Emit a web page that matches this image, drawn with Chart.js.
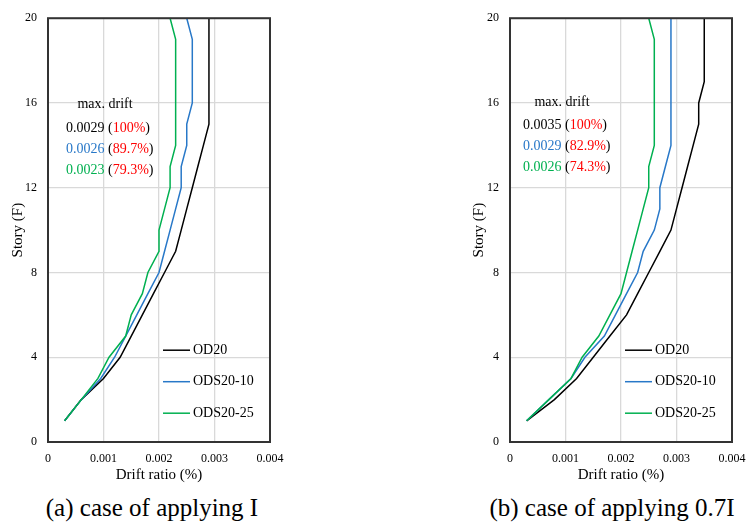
<!DOCTYPE html>
<html>
<head>
<meta charset="utf-8">
<script src="https://cdn.jsdelivr.net/npm/chart.js@4.4.1/dist/chart.umd.min.js"></script>
<style>
html, body { margin: 0; padding: 0; background: #fff; overflow: hidden; }
body { width: 746px; height: 526px; position: relative; font-family: 'Liberation Serif', 'Times New Roman', serif; }
canvas { position: absolute; top: 0; }
#chart-a { left: 0; }
#chart-b { left: 373px; }
.caption { position: absolute; top: 493px; font-size: 25px; line-height: 30px; white-space: nowrap; transform: translateX(-50%); color: #000; }
</style>
</head>
<body>
<canvas id="chart-a" width="300" height="490"></canvas>
<canvas id="chart-b" width="390" height="490"></canvas>
<div class="caption" style="left:152px">(a) case of applying I</div>
<div class="caption" style="left:612px">(b) case of applying 0.7I</div>
<script>
var stories = [1, 2, 3, 4, 5, 6, 7, 8, 9, 10, 11, 12, 13, 14, 15, 16, 17, 18, 19, 20];
var seriesNames = ['OD20', 'ODS20-10', 'ODS20-25'];
var seriesColors = ['#000000', '#2878c8', '#00b050'];
var xTicks = [0, 0.001, 0.002, 0.003, 0.004];
var yTicks = [0, 4, 8, 12, 16, 20];

// (a) seismic load I
var driftA_OD20 = [0.0003, 0.0006, 0.0010, 0.0013, 0.0015, 0.0017, 0.0019, 0.0021, 0.0023, 0.0024,
                   0.0025, 0.0026, 0.0027, 0.0028, 0.0029, 0.0029, 0.0029, 0.0029, 0.0029, 0.0029];
var driftA_ODS10 = [0.0003, 0.0006, 0.00095, 0.0012, 0.0014, 0.0016, 0.0018, 0.0020, 0.0021, 0.0022,
                    0.0023, 0.0024, 0.0024, 0.0025, 0.0025, 0.0026, 0.0026, 0.0026, 0.0026, 0.0025];
var driftA_ODS25 = [0.0003, 0.0006, 0.0009, 0.0011, 0.0014, 0.0015, 0.0017, 0.0018, 0.0020, 0.0020,
                    0.0021, 0.0022, 0.0022, 0.0023, 0.0023, 0.0023, 0.0023, 0.0023, 0.0023, 0.0022];

// (b) seismic load 0.7I
var driftB_OD20 = [0.0003, 0.0008, 0.0012, 0.0015, 0.0018, 0.0021, 0.0023, 0.0025, 0.0027, 0.0029,
                   0.0030, 0.0031, 0.0032, 0.0033, 0.0034, 0.0034, 0.0035, 0.0035, 0.0035, 0.0035];
var driftB_ODS10 = [0.0003, 0.0007, 0.0011, 0.00135, 0.0017, 0.0019, 0.0021, 0.0023, 0.0024, 0.0026,
                    0.0027, 0.0027, 0.0028, 0.0029, 0.0029, 0.0029, 0.0029, 0.0029, 0.0029, 0.0029];
var driftB_ODS25 = [0.0003, 0.0007, 0.0011, 0.0013, 0.0016, 0.0018, 0.0020, 0.0021, 0.0022, 0.0023,
                    0.0024, 0.0025, 0.0025, 0.0026, 0.0026, 0.0026, 0.0026, 0.0026, 0.0026, 0.0025];

var serif = "'Liberation Serif', 'Times New Roman', serif";
Chart.defaults.font.family = serif;
Chart.defaults.color = '#000';

function maxOf(arr) {
    return Math.max.apply(null, arr);
}

// box around the plot area
var framePlugin = {
    id: 'frame',
    afterDraw: function(chart) {
        var a = chart.chartArea, ctx = chart.ctx;
        ctx.save();
        ctx.strokeStyle = '#333';
        ctx.lineWidth = 2;
        ctx.strokeRect(a.left, a.top, a.right - a.left, a.bottom - a.top);
        ctx.restore();
    }
};

// legend sitting inside the lower right of the plot
var insideLegend = {
    id: 'insideLegend',
    afterDraw: function(chart) {
        var a = chart.chartArea, ctx = chart.ctx;
        ctx.save();
        ctx.font = '14px ' + serif;
        ctx.textBaseline = 'middle';
        chart.data.datasets.forEach(function(ds, i) {
            var x = a.left + 115;
            var y = a.top + 332 + i * 31.5;
            ctx.strokeStyle = ds.borderColor;
            ctx.lineWidth = 1.5;
            ctx.beginPath();
            ctx.moveTo(x, y);
            ctx.lineTo(x + 27, y);
            ctx.stroke();
            ctx.fillStyle = '#000';
            ctx.fillText(ds.label, x + 30, y);
        });
        ctx.restore();
    }
};

// "max. drift" note: peak drift of each series and its ratio to OD20
var driftNote = {
    id: 'driftNote',
    afterDraw: function(chart, args, opts) {
        var a = chart.chartArea, ctx = chart.ctx;
        var x0 = a.left + opts.x, y0 = a.top + opts.y;
        var sets = chart.data.datasets;
        var ref = maxOf(sets[0].data.map(function(p) { return p.x; }));
        ctx.save();
        ctx.font = '14px ' + serif;
        ctx.textBaseline = 'middle';
        ctx.textAlign = 'center';
        ctx.fillStyle = '#000';
        ctx.fillText('max. drift', x0 + 39, y0);
        ctx.textAlign = 'left';
        sets.forEach(function(ds, i) {
            var peak = maxOf(ds.data.map(function(p) { return p.x; }));
            var pct = peak / ref * 100;
            var pctText = (Math.abs(pct - 100) < 1e-9 ? '100' : pct.toFixed(1)) + '%';
            var parts = [
                [peak.toFixed(4), ds.borderColor],
                [' (', '#000'],
                [pctText, '#ff0000'],
                [')', '#000']
            ];
            var x = x0, y = y0 + opts.first + i * opts.step;
            parts.forEach(function(p) {
                ctx.fillStyle = p[1];
                ctx.fillText(p[0], x, y);
                x += ctx.measureText(p[0]).width;
            });
        });
        ctx.restore();
    }
};

function makeDatasets(seriesList) {
    return seriesList.map(function(values, i) {
        return {
            label: seriesNames[i],
            data: values.map(function(v, k) { return { x: v, y: stories[k] }; }),
            borderColor: seriesColors[i],
            backgroundColor: seriesColors[i],
            borderWidth: 1.5,
            pointRadius: 0,
            showLine: true,
            fill: false,
            tension: 0,
            order: seriesList.length - 1 - i
        };
    });
}

function makeOptions(padLeft, padRight, yTitlePad, note) {
    return {
        responsive: false,
        animation: false,
        devicePixelRatio: 1,
        events: [],
        layout: { padding: { left: padLeft, right: padRight, top: 15, bottom: 0 } },
        plugins: {
            legend: { display: false },
            tooltip: { enabled: false },
            driftNote: note
        },
        scales: {
            x: {
                type: 'linear',
                min: xTicks[0],
                max: xTicks[xTicks.length - 1],
                afterBuildTicks: function(s) { s.ticks = xTicks.map(function(v) { return { value: v }; }); },
                afterFit: function(s) { s.height = 48; },
                grid: { color: '#d9d9d9', lineWidth: 1.3, drawTicks: false },
                border: { display: false },
                ticks: { padding: 10, font: { size: 12 }, maxRotation: 0 },
                title: { display: true, text: 'Drift ratio (%)', font: { size: 15 }, padding: { top: 0, bottom: 6 } }
            },
            y: {
                type: 'linear',
                min: yTicks[0],
                max: yTicks[yTicks.length - 1],
                afterBuildTicks: function(s) { s.ticks = yTicks.map(function(v) { return { value: v }; }); },
                afterFit: function(s) { s.width = 48; },
                grid: { color: '#d9d9d9', lineWidth: 1.3, drawTicks: false },
                border: { display: false },
                ticks: { padding: 11, font: { size: 12 } },
                title: { display: true, text: 'Story (F)', font: { size: 15 }, padding: { top: yTitlePad, bottom: 0 } }
            }
        }
    };
}

function drawPanel(id, seriesList, padLeft, padRight, yTitlePad, note) {
    return new Chart(document.getElementById(id), {
        type: 'scatter',
        data: { datasets: makeDatasets(seriesList) },
        options: makeOptions(padLeft, padRight, yTitlePad, note),
        plugins: [framePlugin, insideLegend, driftNote]
    });
}

drawPanel('chart-a', [driftA_OD20, driftA_ODS10, driftA_ODS25], 0, 30, 9,
    { x: 18, y: 86, first: 24, step: 21 });
drawPanel('chart-b', [driftB_OD20, driftB_ODS10, driftB_ODS25], 89, 31, 8,
    { x: 13, y: 84, first: 23.5, step: 21 });
</script>
</body>
</html>
